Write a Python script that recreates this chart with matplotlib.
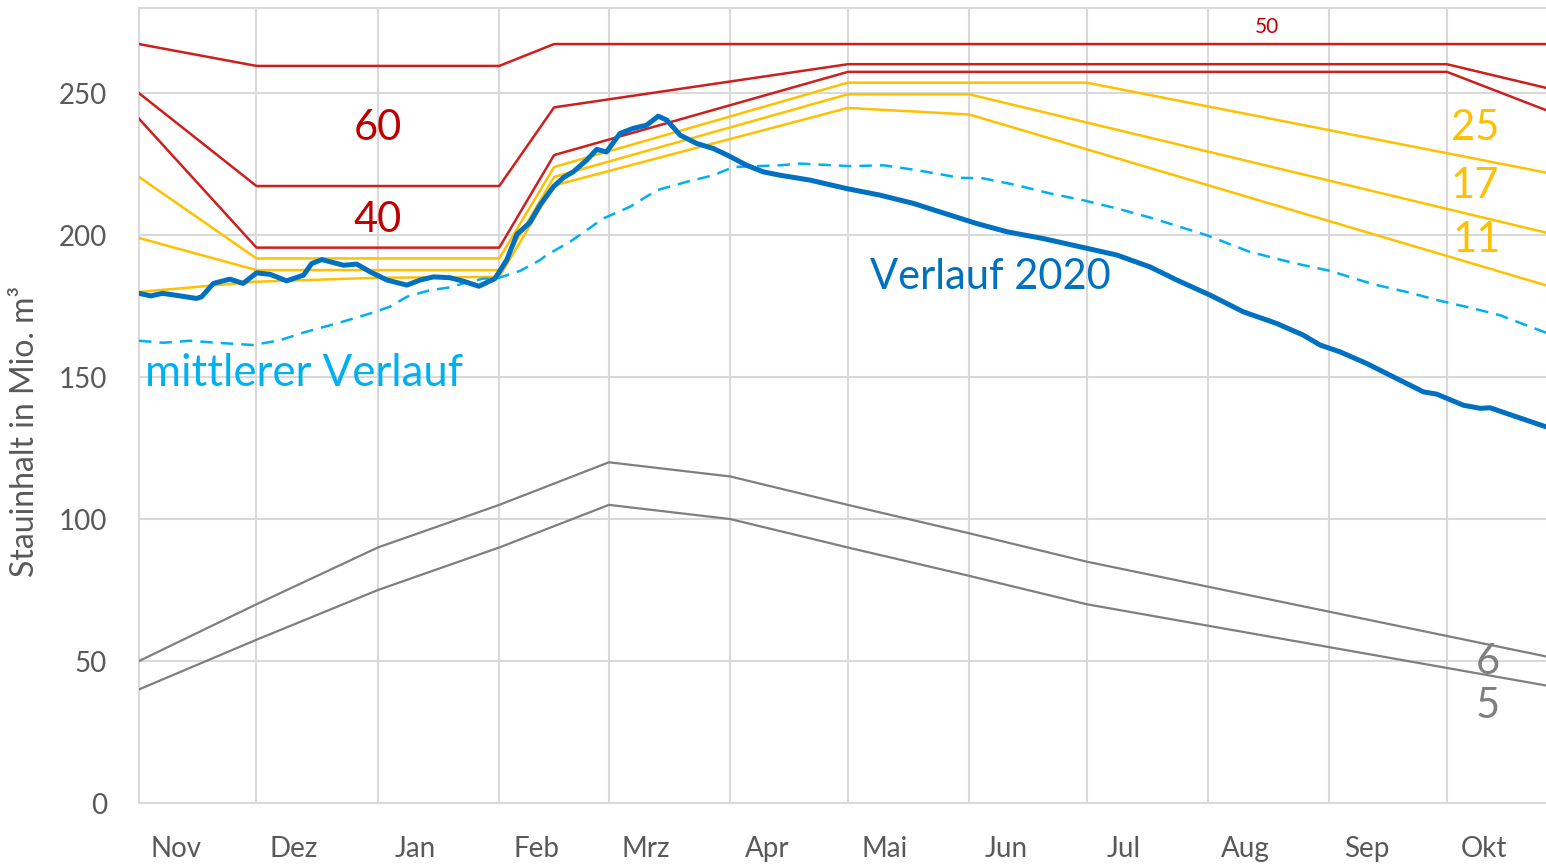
import matplotlib
matplotlib.use("Agg")
import matplotlib.pyplot as plt
from matplotlib.ticker import FixedLocator, NullFormatter

plt.rcParams['font.family'] = ['Lato', 'DejaVu Sans']

# Tage ab 1. November (Abflussjahr, 365 Tage)
monat_start = [0, 30, 61, 92, 120, 151, 181, 212, 242, 273, 304, 334]
monate = ['Nov', 'Dez', 'Jan', 'Feb', 'Mrz', 'Apr', 'Mai', 'Jun', 'Jul', 'Aug', 'Sep', 'Okt']

# Stauziel-Lamellen (rot)
rot_50_tag = [0, 30, 92, 106, 365]
rot_50 = [267.3, 259.6, 259.6, 267.3, 267.3]
rot_60_tag = [0, 30, 92, 106, 181, 334, 365]
rot_60 = [250, 217.3, 217.3, 245, 260.2, 260.2, 250]
rot_40_tag = [0, 30, 92, 106, 181, 334, 365]
rot_40 = [241, 195.6, 195.6, 228.2, 257.5, 257.5, 241]

# gelbe Lamellen
gelb_25_tag = [0, 30, 92, 106, 181, 242, 365]
gelb_25 = [220.5, 191.8, 191.8, 224, 253.7, 253.7, 220.5]
gelb_17_tag = [0, 30, 92, 106, 181, 212, 365]
gelb_17 = [199, 187.7, 187.7, 220.5, 249.6, 249.6, 199]
gelb_11_tag = [0, 30, 61, 92, 106, 181, 212, 365]
gelb_11 = [180, 183.6, 185, 185.3, 217.5, 244.8, 242.5, 180]

# graue Linien
grau_tag = [0, 30, 61, 92, 120, 151, 181, 212, 242, 365]
grau_6 = [50, 70, 90, 105, 120, 115, 105, 95, 85, 50]
grau_5 = [40, 57.5, 75, 90, 105, 100, 90, 80, 70, 40]

# mittlerer Verlauf
mittel_tag = [0, 6.2, 13, 19.8, 29.2, 36, 42.8, 50.5, 59, 64.1, 68.4, 74.3, 79.4, 82.8,
              87.9, 91.3, 97.3, 102.4, 104.1, 110, 118.6, 125.4, 132.2, 139.9, 146.7,
              151.8, 163.7, 168.8, 181.6, 190.1, 198.6, 209.7, 215.6, 224.1, 232.6,
              241.1, 249.7, 258.2, 272.6, 283.7, 294.8, 304.2, 315.2, 323.7, 332.2,
              340.7, 347.5, 357.7, 365]
mittel = [162.8, 162.1, 162.8, 162.1, 161.3, 163, 166, 168.9, 172.4, 174.8, 178.3, 180.6,
          181.6, 183, 184.7, 184.7, 187.4, 191.2, 193, 197.6, 205.9, 210, 215.8, 218.8,
          221.1, 224, 224.6, 225.2, 224.3, 224.6, 222.9, 220.2, 220, 217.6, 214.7, 212.3,
          209.4, 206.2, 200, 194.1, 190.2, 187.4, 182.7, 180, 176.9, 174.2, 171.8, 166.5,
          162.7]

# Verlauf 2020
verlauf_tag = [0, 3, 6, 10.5, 14.7, 16, 19, 23.2, 26.6, 30, 33.5, 37.7, 42, 44.1, 46.7,
               52.2, 55.6, 59, 63.3, 68.4, 71.8, 75.2, 79.4, 82.8, 86.8, 90.9, 93.9,
               96.5, 99.8, 102.4, 105.8, 108.4, 110.9, 114.3, 116.9, 119.4, 122.8, 126.2,
               129.6, 132.6, 134.8, 138.2, 142.4, 146.7, 150.5, 155.2, 159.4, 163.7,
               171.3, 180.7, 189.2, 197.7, 204.5, 213.9, 221.6, 230.9, 240.3, 249.7,
               258.2, 265, 273.5, 282, 290.5, 297.3, 301.6, 306.7, 313.5, 320.3, 328,
               331.4, 338.2, 342.5, 345, 351.8, 359.5]
verlauf = [179.5, 178.6, 179.5, 178.6, 177.7, 178.3, 183, 184.5, 183, 186.7, 186.2, 183.9,
           185.9, 190, 191.4, 189.4, 189.8, 187.1, 184.2, 182.4, 184.2, 185.3, 185, 183.8,
           182, 184.7, 191.2, 200.3, 204.4, 210.6, 217, 220.3, 222.3, 226.4, 230.2, 229.3,
           235.8, 237.6, 238.7, 241.9, 240.5, 235.2, 232.3, 230.5, 228, 224.6, 222.3, 221.1,
           219.4, 216.4, 214.1, 211.2, 208.2, 204.1, 201.2, 198.8, 195.9, 193, 188.8, 184.2,
           178.9, 173, 168.9, 164.8, 161.3, 158.9, 154.8, 150.1, 144.8, 144, 140.1, 139,
           139.2, 136, 132.4]

ROT = '#CF1E1E'
ROT_TXT = '#C00000'
GELB = '#FFC000'
GRAU = '#7F7F7F'
BLAU = '#0070C0'
HELLBLAU = '#00B0F0'
GRID = '#D9D9D9'

fig = plt.figure(figsize=(15.46, 8.65), dpi=100)
ax = fig.add_axes([139 / 1546, 62 / 865, 1407 / 1546, 795 / 865])

ax.plot(grau_tag, grau_6, color=GRAU, lw=1.6, zorder=3)
ax.plot(grau_tag, grau_5, color=GRAU, lw=1.6, zorder=3)
ax.plot(gelb_25_tag, gelb_25, color=GELB, lw=1.8, zorder=3)
ax.plot(gelb_17_tag, gelb_17, color=GELB, lw=1.8, zorder=3)
ax.plot(gelb_11_tag, gelb_11, color=GELB, lw=1.8, zorder=3)
ax.plot(rot_50_tag, rot_50, color=ROT, lw=1.8, zorder=4)
ax.plot(rot_60_tag, rot_60, color=ROT, lw=1.8, zorder=4)
ax.plot(rot_40_tag, rot_40, color=ROT, lw=1.8, zorder=4)
ax.plot(mittel_tag, mittel, color=HELLBLAU, lw=1.8, dashes=(5, 3.2), zorder=5)
ax.plot(verlauf_tag, verlauf, color=BLAU, lw=3.6, zorder=6,
        solid_joinstyle='round', solid_capstyle='round')

ax.set_xlim(0, 359.3)
ax.set_ylim(0, 280)

ax.xaxis.set_major_locator(FixedLocator([m + 9.5 for m in monat_start]))
ax.set_xticklabels(monate)
ax.xaxis.set_minor_locator(FixedLocator(monat_start))
ax.xaxis.set_minor_formatter(NullFormatter())
ax.set_yticks([0, 50, 100, 150, 200, 250])

ax.grid(False)
ax.grid(True, which='minor', axis='x', color=GRID, lw=1.5, zorder=0)
ax.grid(True, which='major', axis='y', color=GRID, lw=1.5, zorder=0)
ax.tick_params(axis='both', which='both', length=0, labelsize=20, colors='#595959')
ax.tick_params(axis='x', pad=24)
ax.tick_params(axis='y', pad=23)

for s in ['left', 'bottom', 'top']:
    ax.spines[s].set_color(GRID)
    ax.spines[s].set_linewidth(1.5)
ax.spines['right'].set_visible(False)

fig.text(25 / 1546, 1 - 431 / 865, 'Stauinhalt in Mio. m³', fontsize=23, color='#595959',
         rotation=90, ha='center', va='center')

gross = 30
ax.text(61, 237.7, '60', color=ROT_TXT, fontsize=gross, ha='center', va='center')
ax.text(61, 205.3, '40', color=ROT_TXT, fontsize=gross, ha='center', va='center')
ax.text(288, 273.2, '50', color=ROT_TXT, fontsize=15, ha='center', va='center')
ax.text(341.2, 237.7, '25', color=GELB, fontsize=gross, ha='center', va='center')
ax.text(341.2, 217.3, '17', color=GELB, fontsize=gross, ha='center', va='center')
ax.text(341.7, 198.2, '11', color=GELB, fontsize=gross, ha='center', va='center')
ax.text(344.5, 49.6, '6', color=GRAU, fontsize=gross, ha='center', va='center')
ax.text(344.5, 34.2, '5', color=GRAU, fontsize=gross, ha='center', va='center')
ax.text(217.3, 185.2, 'Verlauf 2020', color=BLAU, fontsize=gross, ha='center', va='center')
ax.text(1.5, 151.4, 'mittlerer Verlauf', color=HELLBLAU, fontsize=31.5, ha='left', va='center')

fig.savefig('out.png', dpi=100)
